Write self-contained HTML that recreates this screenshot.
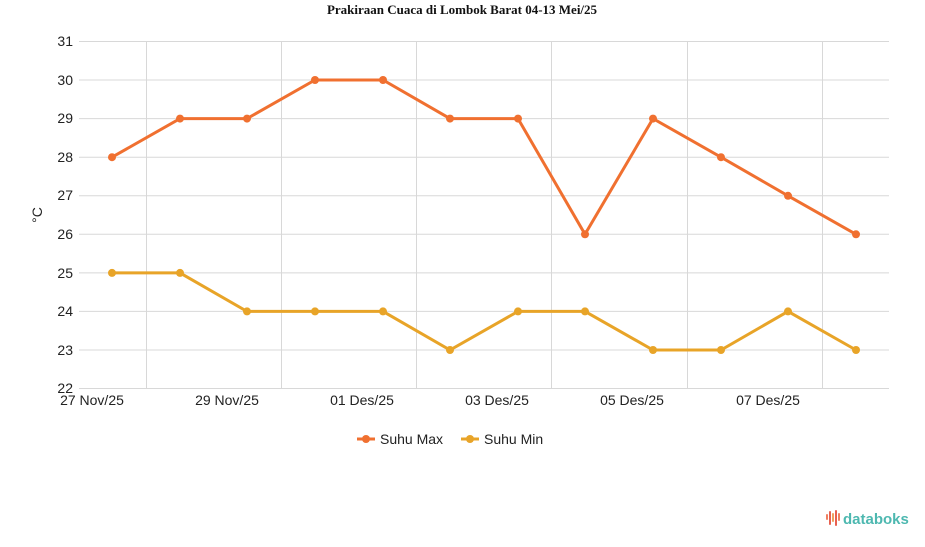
<!DOCTYPE html>
<html><head><meta charset="utf-8"><style>
body{margin:0;background:#fff;width:925px;height:547px;overflow:hidden}
svg{display:block;font-family:"Liberation Sans",sans-serif}
</style></head><body>
<svg width="925" height="547" viewBox="0 0 925 547">
<text x="462" y="14" text-anchor="middle" font-family="Liberation Serif" font-weight="bold" font-size="13" fill="#111">Prakiraan Cuaca di Lombok Barat 04-13 Mei/25</text>
<g stroke="#d8d8d8" stroke-width="1">
<line x1="79" y1="41.5" x2="889" y2="41.5"/><line x1="79" y1="80" x2="889" y2="80"/><line x1="79" y1="118.6" x2="889" y2="118.6"/><line x1="79" y1="157.2" x2="889" y2="157.2"/><line x1="79" y1="195.8" x2="889" y2="195.8"/><line x1="79" y1="234.3" x2="889" y2="234.3"/><line x1="79" y1="272.9" x2="889" y2="272.9"/><line x1="79" y1="311.4" x2="889" y2="311.4"/><line x1="79" y1="350" x2="889" y2="350"/><line x1="79" y1="388.5" x2="889" y2="388.5"/>
<line x1="146.5" y1="41" x2="146.5" y2="388"/><line x1="281.5" y1="41" x2="281.5" y2="388"/><line x1="416.5" y1="41" x2="416.5" y2="388"/><line x1="551.5" y1="41" x2="551.5" y2="388"/><line x1="687.5" y1="41" x2="687.5" y2="388"/><line x1="822.5" y1="41" x2="822.5" y2="388"/>
</g>
<g font-size="14" fill="#222" text-anchor="end">
<text x="73" y="46">31</text><text x="73" y="85">30</text><text x="73" y="123">29</text><text x="73" y="162">28</text><text x="73" y="200">27</text><text x="73" y="239">26</text><text x="73" y="278">25</text><text x="73" y="316">24</text><text x="73" y="355">23</text><text x="73" y="393">22</text>
</g>
<text transform="translate(42,215) rotate(-90)" font-size="14" fill="#222" text-anchor="middle">°C</text>
<g font-size="14" fill="#222" text-anchor="middle">
<text x="92" y="405">27 Nov/25</text><text x="227" y="405">29 Nov/25</text><text x="362" y="405">01 Des/25</text><text x="497" y="405">03 Des/25</text><text x="632" y="405">05 Des/25</text><text x="768" y="405">07 Des/25</text>
</g>
<polyline fill="none" stroke="#f07030" stroke-width="3" points="112,157.2 180,118.6 247,118.6 315,80 383,80 450,118.6 518,118.6 585,234.3 653,118.6 721,157.2 788,195.8 856,234.3"/>
<g fill="#f07030"><circle cx="112" cy="157.2" r="4"/><circle cx="180" cy="118.6" r="4"/><circle cx="247" cy="118.6" r="4"/><circle cx="315" cy="80" r="4"/><circle cx="383" cy="80" r="4"/><circle cx="450" cy="118.6" r="4"/><circle cx="518" cy="118.6" r="4"/><circle cx="585" cy="234.3" r="4"/><circle cx="653" cy="118.6" r="4"/><circle cx="721" cy="157.2" r="4"/><circle cx="788" cy="195.8" r="4"/><circle cx="856" cy="234.3" r="4"/></g>
<polyline fill="none" stroke="#e8a428" stroke-width="3" points="112,272.9 180,272.9 247,311.4 315,311.4 383,311.4 450,350 518,311.4 585,311.4 653,350 721,350 788,311.4 856,350"/>
<g fill="#e8a428"><circle cx="112" cy="272.9" r="4"/><circle cx="180" cy="272.9" r="4"/><circle cx="247" cy="311.4" r="4"/><circle cx="315" cy="311.4" r="4"/><circle cx="383" cy="311.4" r="4"/><circle cx="450" cy="350" r="4"/><circle cx="518" cy="311.4" r="4"/><circle cx="585" cy="311.4" r="4"/><circle cx="653" cy="350" r="4"/><circle cx="721" cy="350" r="4"/><circle cx="788" cy="311.4" r="4"/><circle cx="856" cy="350" r="4"/></g>
<line x1="357" y1="439" x2="375" y2="439" stroke="#f07030" stroke-width="3"/><circle cx="366" cy="439" r="4" fill="#f07030"/>
<text x="380" y="444" font-size="14" fill="#222">Suhu Max</text>
<line x1="461" y1="439" x2="479" y2="439" stroke="#e8a428" stroke-width="3"/><circle cx="470" cy="439" r="4" fill="#e8a428"/>
<text x="484" y="444" font-size="14" fill="#222">Suhu Min</text>
<g stroke-width="2" stroke-linecap="round">
<line x1="827" y1="515" x2="827" y2="519" stroke="#f08060"/><line x1="830" y1="512" x2="830" y2="524" stroke="#e86050"/><line x1="833" y1="514" x2="833" y2="521" stroke="#f0a060"/><line x1="836" y1="511" x2="836" y2="525" stroke="#e86050"/><line x1="839" y1="514" x2="839" y2="520" stroke="#f08060"/>
</g>
<text x="843" y="524" font-size="15" font-weight="bold" fill="#4db8b0">databoks</text>
</svg>
</body></html>
